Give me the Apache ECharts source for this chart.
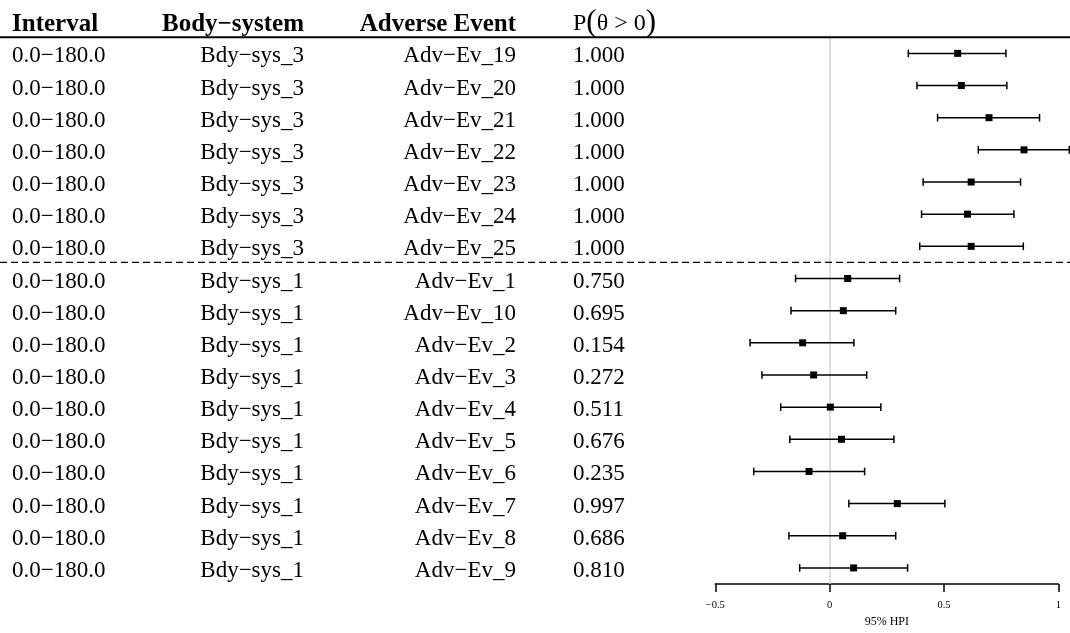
<!DOCTYPE html>
<html>
<head>
<meta charset="utf-8">
<script src="https://cdn.jsdelivr.net/npm/echarts@6/dist/echarts.min.js"></script>
<style>
  html, body { margin: 0; padding: 0; background: #ffffff; }
  #chart { width: 1070px; height: 633px; }
</style>
</head>
<body>
<div id="chart"></div>
<script>
// Forest plot: posterior effect per adverse event with 95% HPI
const MINUS = '\u2212';

const intervals = [
  '0.0' + MINUS + '180.0', '0.0' + MINUS + '180.0', '0.0' + MINUS + '180.0', '0.0' + MINUS + '180.0',
  '0.0' + MINUS + '180.0', '0.0' + MINUS + '180.0', '0.0' + MINUS + '180.0', '0.0' + MINUS + '180.0',
  '0.0' + MINUS + '180.0', '0.0' + MINUS + '180.0', '0.0' + MINUS + '180.0', '0.0' + MINUS + '180.0',
  '0.0' + MINUS + '180.0', '0.0' + MINUS + '180.0', '0.0' + MINUS + '180.0', '0.0' + MINUS + '180.0',
  '0.0' + MINUS + '180.0'
];
const bodySystems = [
  'Bdy' + MINUS + 'sys_3', 'Bdy' + MINUS + 'sys_3', 'Bdy' + MINUS + 'sys_3', 'Bdy' + MINUS + 'sys_3',
  'Bdy' + MINUS + 'sys_3', 'Bdy' + MINUS + 'sys_3', 'Bdy' + MINUS + 'sys_3',
  'Bdy' + MINUS + 'sys_1', 'Bdy' + MINUS + 'sys_1', 'Bdy' + MINUS + 'sys_1', 'Bdy' + MINUS + 'sys_1',
  'Bdy' + MINUS + 'sys_1', 'Bdy' + MINUS + 'sys_1', 'Bdy' + MINUS + 'sys_1', 'Bdy' + MINUS + 'sys_1',
  'Bdy' + MINUS + 'sys_1', 'Bdy' + MINUS + 'sys_1'
];
const adverseEvents = [
  'Adv' + MINUS + 'Ev_19', 'Adv' + MINUS + 'Ev_20', 'Adv' + MINUS + 'Ev_21', 'Adv' + MINUS + 'Ev_22',
  'Adv' + MINUS + 'Ev_23', 'Adv' + MINUS + 'Ev_24', 'Adv' + MINUS + 'Ev_25',
  'Adv' + MINUS + 'Ev_1', 'Adv' + MINUS + 'Ev_10', 'Adv' + MINUS + 'Ev_2', 'Adv' + MINUS + 'Ev_3',
  'Adv' + MINUS + 'Ev_4', 'Adv' + MINUS + 'Ev_5', 'Adv' + MINUS + 'Ev_6', 'Adv' + MINUS + 'Ev_7',
  'Adv' + MINUS + 'Ev_8', 'Adv' + MINUS + 'Ev_9'
];
const probPositive = [
  '1.000', '1.000', '1.000', '1.000', '1.000', '1.000', '1.000',
  '0.750', '0.695', '0.154', '0.272', '0.511', '0.676', '0.235', '0.997', '0.686', '0.810'
];
const hpiLower = [
  0.344, 0.382, 0.472, 0.650, 0.409, 0.402, 0.394,
  -0.149, -0.169, -0.348, -0.296, -0.214, -0.174, -0.332, 0.084, -0.178, -0.131
];
const estimates = [
  0.560, 0.576, 0.697, 0.850, 0.619, 0.603, 0.619,
  0.079, 0.060, -0.118, -0.070, 0.003, 0.052, -0.090, 0.296, 0.057, 0.105
];
const hpiUpper = [
  0.771, 0.775, 0.918, 1.048, 0.835, 0.806, 0.847,
  0.306, 0.289, 0.106, 0.162, 0.224, 0.281, 0.153, 0.504, 0.289, 0.341
];
const headers = ['Interval', 'Body' + MINUS + 'system', 'Adverse Event'];
const xTitle = '95% HPI';

// Layout of the table columns (pixels)
const FONT = '"Liberation Serif", "Times New Roman", serif';
const BODY_SIZE = 23;
const HEAD_SIZE = 25;
const TEXT_SHIFT = 3;
const COLS = [
  { x: 12, align: 'left' },
  { x: 304, align: 'right' },
  { x: 516, align: 'right' }
];
const PROB_X = 573;

const rowIds = adverseEvents.map((_, i) => i + 1);
const nRows = rowIds.length;

// Horizontal rules: top rule above first row, dashed rule between body systems
const rules = [[0, 0.5, 0]];
for (let i = 1; i < nRows; i++) {
  if (bodySystems[i] !== bodySystems[i - 1]) rules.push([0, i + 0.5, 1]);
}

const chart = echarts.init(document.getElementById('chart'), null, { renderer: 'canvas' });

function textEl(str, x, y, align, size, weight) {
  return {
    type: 'text',
    style: {
      text: str, x: x, y: y,
      align: align, verticalAlign: 'middle',
      fontFamily: FONT, fontSize: size, fontWeight: weight || 'normal',
      fill: '#000000'
    }
  };
}

const option = {
  animation: false,
  backgroundColor: '#ffffff',
  grid: { left: 715.3, right: 11.7, top: 37.3, bottom: 45.7, containLabel: false },
  xAxis: {
    type: 'value',
    min: -0.5, max: 1, interval: 0.5,
    name: xTitle,
    nameLocation: 'middle',
    nameGap: 32,
    nameTextStyle: { fontFamily: FONT, fontSize: 12, color: '#000' },
    axisLine: { show: true, onZero: false, lineStyle: { color: '#000', width: 1.5 } },
    axisTick: { show: true, inside: false, length: 8, lineStyle: { color: '#000', width: 1.5 } },
    axisLabel: {
      margin: 16,
      fontFamily: FONT, fontSize: 10.5, color: '#000',
      formatter: v => (v < 0 ? MINUS + Math.abs(v) : String(v)),
      showMinLabel: true, showMaxLabel: true
    },
    splitLine: { show: false }
  },
  yAxis: {
    type: 'value',
    min: 0.5, max: nRows + 0.5,
    inverse: true,
    show: false,
    splitLine: { show: false }
  },
  series: [
    // table rules
    {
      type: 'custom',
      clip: false,
      silent: true,
      z: 3,
      data: rules,
      encode: { x: 0, y: 1 },
      renderItem: (params, api) => {
        const y = api.coord([0, api.value(1)])[1];
        const dashed = api.value(2) === 1;
        return {
          type: 'line',
          shape: { x1: 0, y1: y, x2: api.getWidth(), y2: y },
          style: {
            stroke: '#000',
            lineWidth: dashed ? 1.2 : 2,
            lineDash: dashed ? [7, 4] : null
          }
        };
      }
    },
    // column headers
    {
      type: 'custom',
      clip: false,
      silent: true,
      z: 3,
      data: [[0, 0]],
      encode: { x: 0, y: 1 },
      renderItem: (params, api) => {
        const y = api.coord([0, 0])[1] + TEXT_SHIFT;
        const children = headers.map((h, k) => textEl(h, COLS[k].x, y, COLS[k].align, HEAD_SIZE, 'bold'));
        children.push({
          type: 'text',
          style: {
            text: '{n|P}{p|(}{n|\u03B8 > 0}{p|)}',
            x: PROB_X, y: y - 1,
            align: 'left', verticalAlign: 'middle',
            rich: {
              n: { fontFamily: FONT, fontSize: 24, fill: '#000', verticalAlign: 'middle' },
              p: { fontFamily: FONT, fontSize: 31, fill: '#000', verticalAlign: 'middle' }
            }
          }
        });
        return { type: 'group', children: children };
      }
    },
    // table body
    {
      type: 'custom',
      clip: false,
      silent: true,
      z: 3,
      data: rowIds.map((r, i) => [0, r, i]),
      encode: { x: 0, y: 1 },
      renderItem: (params, api) => {
        const i = api.value(2);
        const y = api.coord([0, api.value(1)])[1] + TEXT_SHIFT;
        return {
          type: 'group',
          children: [
            textEl(intervals[i], COLS[0].x, y, COLS[0].align, BODY_SIZE),
            textEl(bodySystems[i], COLS[1].x, y, COLS[1].align, BODY_SIZE),
            textEl(adverseEvents[i], COLS[2].x, y, COLS[2].align, BODY_SIZE),
            textEl(probPositive[i], PROB_X, y, 'left', BODY_SIZE)
          ]
        };
      }
    },
    // intervals with point estimates
    {
      type: 'custom',
      clip: false,
      z: 4,
      data: rowIds.map((r, i) => [hpiLower[i], r, estimates[i], hpiUpper[i]]),
      encode: { x: [0, 2, 3], y: 1 },
      renderItem: (params, api) => {
        const row = api.value(1);
        const pLo = api.coord([api.value(0), row]);
        const pEst = api.coord([api.value(2), row]);
        const pHi = api.coord([api.value(3), row]);
        const cap = 3.8;
        const sq = 7;
        const stroke = { stroke: '#000', lineWidth: 1.5 };
        return {
          type: 'group',
          children: [
            { type: 'line', shape: { x1: pLo[0], y1: pLo[1], x2: pHi[0], y2: pHi[1] }, style: stroke },
            { type: 'line', shape: { x1: pLo[0], y1: pLo[1] - cap, x2: pLo[0], y2: pLo[1] + cap }, style: stroke },
            { type: 'line', shape: { x1: pHi[0], y1: pHi[1] - cap, x2: pHi[0], y2: pHi[1] + cap }, style: stroke },
            { type: 'rect', shape: { x: pEst[0] - sq / 2, y: pEst[1] - sq / 2, width: sq, height: sq }, style: { fill: '#000' } }
          ]
        };
      },
      markLine: {
        silent: true,
        symbol: 'none',
        z: 1,
        label: { show: false },
        lineStyle: { color: '#d3d3d3', width: 1.5, type: 'solid' },
        data: [{ xAxis: 0 }]
      }
    }
  ]
};

chart.setOption(option);
</script>
</body>
</html>
